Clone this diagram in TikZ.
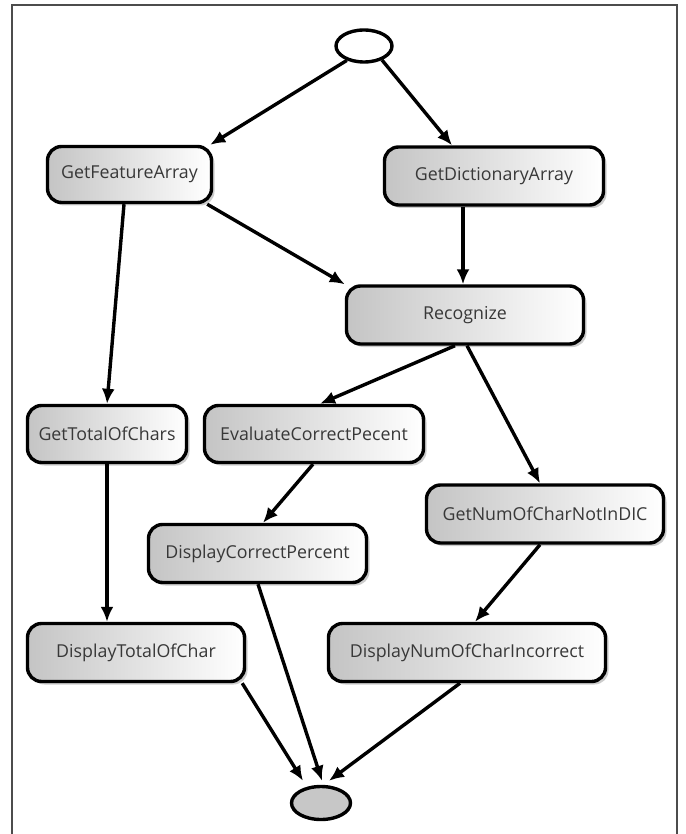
\documentclass[tikz,border=0pt]{standalone}
\usepackage{fontspec}
\setmainfont{Open Sans}
\usetikzlibrary{arrows.meta,shapes.geometric,shadows}
\begin{document}
\begin{tikzpicture}[x=1pt,y=-1pt,
  task/.style={draw=black, line width=3.4pt, rounded corners=14pt,
    left color=black!23, right color=white, text=black!78,
    font=\fontsize{17.8}{20}\selectfont, inner sep=0pt,
    drop shadow={shadow xshift=3pt, shadow yshift=-3pt, opacity=0.2, fill=black}},
  terminal/.style={draw=black, ellipse, line width=3.4pt, inner sep=0pt},
  arr/.style={line width=3.4pt, -{Latex[length=15pt,width=13pt]}}
]
\useasboundingbox (0,0) rectangle (685,834);
\fill[white] (0,0) rectangle (685,834);

% frame
\draw[line width=2pt, black!70] (12,834) -- (12,5) -- (677,5) -- (677,834);

% start / end markers
\node[terminal, minimum width=56pt, minimum height=32pt] (start) at (364,46) {};
\node[terminal, fill=black!22, minimum width=59pt, minimum height=33pt] (finish) at (321,803) {};

% activities
\node[task, minimum width=164pt, minimum height=56pt] (gfa) at (129.5,174.5) {GetFeatureArray};
\node[task, minimum width=219pt, minimum height=58pt] (gda) at (494,176) {GetDictionaryArray};
\node[task, minimum width=237pt, minimum height=58pt] (rec) at (465,315) {Recognize};
\node[task, minimum width=159pt, minimum height=57pt] (gtc) at (107,434) {GetTotalOfChars};
\node[task, minimum width=219pt, minimum height=57pt] (ecp) at (314,434) {EvaluateCorrectPecent};
\node[task, minimum width=237pt, minimum height=58pt] (gnc) at (545,514) {GetNumOfCharNotInDIC};
\node[task, minimum width=218pt, minimum height=58pt] (dcp) at (257.5,553.5) {DisplayCorrectPercent};
\node[task, minimum width=217pt, minimum height=58pt] (dtc) at (136,652.5) {DisplayTotalOfChar};
\node[task, minimum width=277pt, minimum height=58pt] (dni) at (467,652.5) {DisplayNumOfCharIncorrect};

% flow
\draw[arr] (start.-140) -- ([xshift=-3pt]gfa.north east);
\draw[arr] (start.-38) -- ([xshift=-42pt]gda.north);
\draw[arr] ([xshift=-6pt]gfa.south east) -- (rec.north west);
\draw[arr] ([xshift=-31pt]gda.south) -- ([xshift=-2pt]rec.north);
\draw[arr] ([xshift=-5.5pt]gfa.south) -- (gtc.north);
\draw[arr] ([xshift=-10pt]rec.south) -- ([xshift=6pt]ecp.north);
\draw[arr] ([xshift=2pt]rec.south) -- ([xshift=-5pt]gnc.north);
\draw[arr] ([xshift=-1pt]ecp.south) -- ([xshift=5.5pt]dcp.north);
\draw[arr] (gtc.south) -- ([xshift=-29pt]dtc.north);
\draw[arr] ([xshift=-5pt]gnc.south) -- ([xshift=8pt]dni.north);
\draw[arr] ([xshift=-4pt]dtc.south east) -- ([xshift=-18pt,yshift=4pt]finish.north);
\draw[arr] ([xshift=0.5pt]dcp.south) -- ([xshift=1pt,yshift=4pt]finish.north);
\draw[arr] ([xshift=-7pt]dni.south) -- ([xshift=8pt,yshift=4pt]finish.north);
\end{tikzpicture}
\end{document}
